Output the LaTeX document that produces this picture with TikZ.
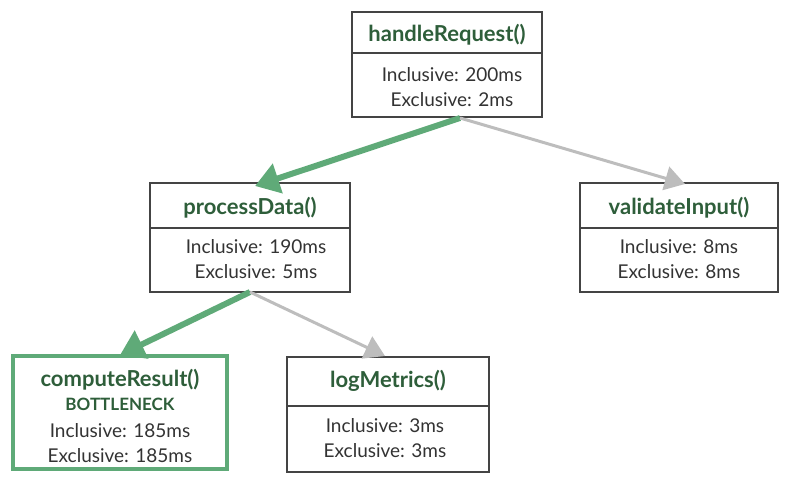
\documentclass[tikz,border=0pt]{standalone}
\usepackage{fontspec}
\setmainfont{Lato}
\usetikzlibrary{arrows.meta}
\definecolor{dkgreen}{HTML}{2E5E3A}
\definecolor{mgreen}{HTML}{5FAA78}
\definecolor{bordergray}{HTML}{444444}
\definecolor{txtgray}{HTML}{333333}
\definecolor{lgray}{HTML}{BDBDBD}
\begin{document}
\begin{tikzpicture}[x=1pt,y=-1pt,
  box/.style={draw=bordergray,line width=2pt,fill=white,minimum width=#1,inner sep=0},
  title/.style={text=dkgreen,font=\fontsize{22}{26}\selectfont\bfseries},
  body/.style={text=txtgray,align=center,font=\fontsize{19}{25}\selectfont},
  hot/.style={draw=mgreen,line width=6pt,-{Triangle[length=24pt,width=30pt]}},
  cold/.style={draw=lgray,line width=3pt,-{Triangle[length=20pt,width=24pt]}}]
\useasboundingbox (0,0) rectangle (800,485);
% boxes
\node[box=190pt,minimum height=105pt] (hr) at (447,64.5) {};
\node[box=200pt,minimum height=109pt] (pd) at (250,237.5) {};
\node[box=198pt,minimum height=109pt] (vi) at (679,237.5) {};
\node[box=202pt,minimum height=115pt] (lm) at (388,414.5) {};
\node[draw=mgreen,line width=4pt,fill=white,minimum width=214pt,minimum height=113pt] (cr) at (120,412.5) {};
% dividers
\coordinate (hrl) at (352,53); \coordinate (hrr) at (542,53);
\draw[bordergray,line width=2pt] (hrl) -- (hrr);
\coordinate (pdl) at (150,228); \coordinate (pdr) at (350,228);
\draw[bordergray,line width=2pt] (pdl) -- (pdr);
\coordinate (vil) at (580,228); \coordinate (vir) at (778,228);
\draw[bordergray,line width=2pt] (vil) -- (vir);
\coordinate (lml) at (287,406); \coordinate (lmr) at (489,406);
\draw[bordergray,line width=2pt] (lml) -- (lmr);
% texts
\node[title] (t1) at (447,35) {handleRequest()};
\node[body] (b1) at (452,87) {Inclusive: 200ms\\Exclusive: 2ms};
\node[title] (t2) at (250,208) {processData()};
\node[body] (b2) at (256,259) {Inclusive: 190ms\\Exclusive: 5ms};
\node[title] (t3) at (679,208) {validateInput()};
\node[body] (b3) at (679,259) {Inclusive: 8ms\\Exclusive: 8ms};
\node[title] (t4) at (388,381) {logMetrics()};
\node[body] (b4) at (385,438) {Inclusive: 3ms\\Exclusive: 3ms};
\node[title] (t5) at (120,380) {computeResult()};
\node[title,font=\fontsize{17}{20}\selectfont\bfseries] (t6) at (120,404) {BOTTLENECK};
\node[body] (b5) at (120,443) {Inclusive: 185ms\\Exclusive: 185ms};
% connectors
\coordinate (s1) at (460,118);
\coordinate (s2) at (250,292);
\draw[hot] (s1) -- (255,186);
\draw[cold] (s1) -- (685,184);
\draw[hot] (s2) -- (120,355);
\draw[cold] (s2) -- (385,356);
\end{tikzpicture}
\end{document}
